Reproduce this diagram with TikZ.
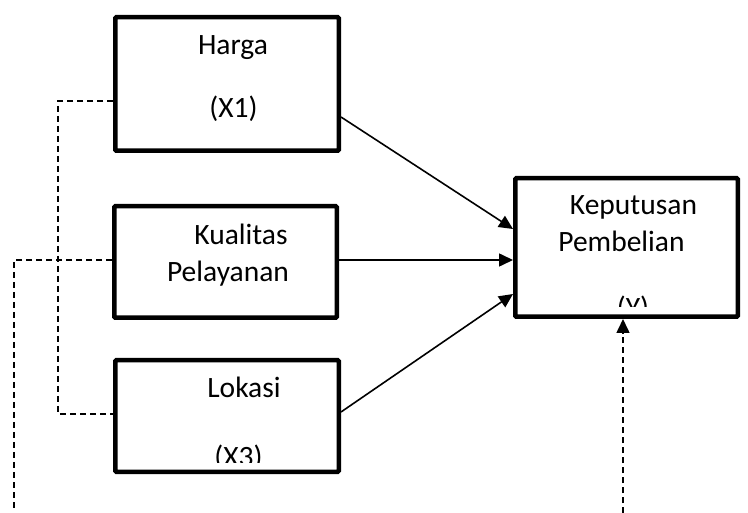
\documentclass[tikz,border=0pt]{standalone}
\usepackage{fontspec}
\setmainfont{Carlito}
\usetikzlibrary{arrows.meta}
\begin{document}
\begin{tikzpicture}[x=1pt,y=-1pt,
  box/.style={draw,line width=4.5pt,rounded corners=1pt,inner sep=0pt},
  lbl/.style={anchor=base,inner sep=0pt,font=\fontsize{29.5}{33}\selectfont},
  conn/.style={line width=1.6pt,-{Triangle[length=14pt,width=13pt]}},
  dsh/.style={line width=1.6pt,dash pattern=on 6pt off 4pt}]
\useasboundingbox (0,0) rectangle (748,513);
\node[box,minimum width=223.5pt,minimum height=133.5pt] (harga) at (227,84) {};
\node[box,minimum width=222.5pt,minimum height=111.5pt] (kual) at (225.5,262) {};
\node[box,minimum width=223.5pt,minimum height=111.5pt] (lok) at (227,416) {};
\node[box,minimum width=222.5pt,minimum height=138.5pt] (kep) at (626.5,247.5) {};
\node[lbl] (t1) at (233,55) {Harga};
\node[lbl] (t2) at (233.5,118) {(X1)};
\node[lbl] (t3) at (241,245) {Kualitas};
\node[lbl] (t4) at (228,282) {Pelayanan};
\node[lbl] (t5) at (244,398) {Lokasi};
\begin{scope}
\clip (120,420) rectangle (330,462);
\node[lbl] (t6) at (238.5,466) {(X3)};
\end{scope}
\node[lbl] (t7) at (633.5,215) {Keputusan};
\node[lbl] (t8) at (621.5,252) {Pembelian};
\begin{scope}
\clip (520,280) rectangle (730,307);
\node[lbl] (t9) at (633,318) {(Y)};
\end{scope}
\draw[conn] ([yshift=-33pt]harga.east) -- ([yshift=18.5pt]kep.west);
\draw[conn] ([yshift=2pt]kual.east) -- ([yshift=-12.5pt]kep.west);
\draw[conn] ([yshift=4pt]lok.east) -- ([yshift=-46.5pt]kep.west);
\coordinate (ybot) at (623,513);
\draw[dsh,-{Triangle[length=14pt,width=13pt]}] (ybot) -- (ybot |- kep.south);
\draw[dsh] ([yshift=-17pt]harga.west) -- ++(-55,0) |- ([yshift=2pt]lok.west);
\coordinate (kbot) at (14,511);
\draw[dsh] ([yshift=2pt]kual.west) -| (kbot);
\end{tikzpicture}
\end{document}
